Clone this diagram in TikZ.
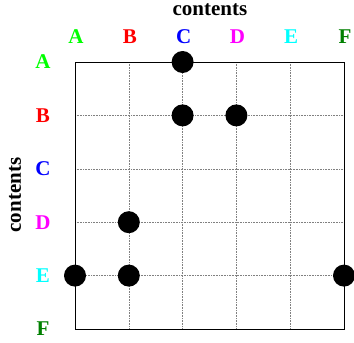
\documentclass[tikz,border=0pt]{standalone}
\usepackage{fontspec}
\setmainfont{Liberation Serif}
\definecolor{darkgreen}{RGB}{0,128,0}
\definecolor{lblmagenta}{RGB}{255,0,255}
\definecolor{lblcyan}{RGB}{0,255,255}
\definecolor{lblgreen}{RGB}{0,255,0}

\begin{document}
\begin{tikzpicture}[x=1pt,y=-1pt,
  every node/.style={font=\fontsize{21}{24}\selectfont\bfseries},
  gridline/.style={densely dotted,gray,line width=0.6pt},
  hit/.style={fill=black}]
  \useasboundingbox (0,0) rectangle (354,343);
  % axis titles
  \node (top) at (210,10) {contents};
  \node[rotate=90] (side) at (15,195) {contents};
  % column and row labels
  \foreach \l/\c [count=\i from 0] in {A/lblgreen,B/red,C/blue,D/lblmagenta,E/lblcyan,F/darkgreen} {
    \node[text=\c] (col\l) at (76+53.8*\i,37) {\l};
    \node[text=\c] (row\l) at (43,62+53.4*\i) {\l};
  }
  % grid
  \foreach \i in {1,...,4} {
    \draw[gridline] (75+53.8*\i,62) -- (75+53.8*\i,329);
    \draw[gridline] (75,62+53.4*\i) -- (344,62+53.4*\i);
  }
  \draw[line width=0.8pt] (75,62) rectangle (344,329);
  % entries (column, row)
  \foreach \c/\r in {2/0,2/1,3/1,1/3,0/4,1/4,5/4}
    \fill[hit] (75+53.8*\c,62+53.4*\r) circle (11);
\end{tikzpicture}
\end{document}
